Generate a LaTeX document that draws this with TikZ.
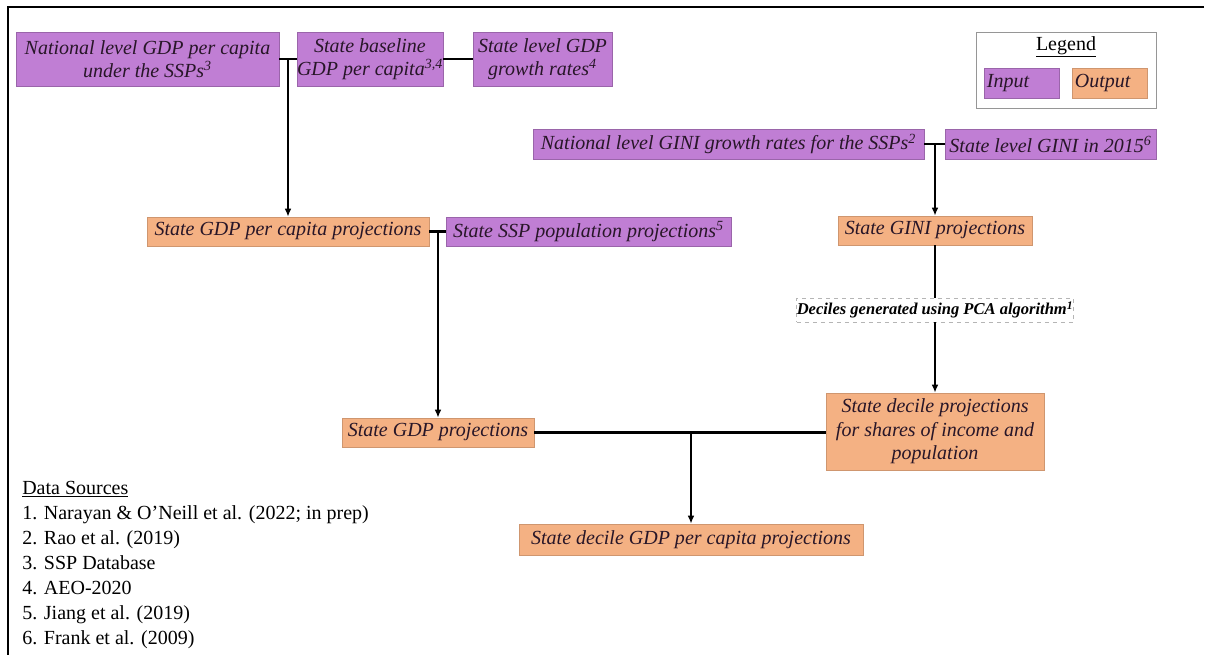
\documentclass[tikz,border=0pt]{standalone}
\usepackage{fontspec}
\setmainfont{Liberation Serif}
\usepackage{xcolor}
\usepackage{tikz}
\usetikzlibrary{arrows.meta, positioning, calc}
\definecolor{inputpurple}{RGB}{192, 126, 212}
\definecolor{outputorange}{RGB}{244, 177, 131}
\definecolor{legendgrey}{RGB}{150, 150, 150}
\definecolor{boxtext}{RGB}{40, 22, 40}

\begin{document}
\begin{tikzpicture}[x=0.75pt, y=-0.75pt,
        inblock/.style={rectangle, draw=inputpurple!80!black, line width=0.4pt, fill=inputpurple, text=boxtext, inner sep=0pt, align=center, font=\fontsize{15}{17.5}\selectfont\itshape},
        outblock/.style={inblock, draw=outputorange!85!black, fill=outputorange},
        keyblock/.style={inner xsep=2pt, text width=#1, align=left},
        line/.style={draw, line width=1.7pt},
        arrowline/.style={line, -{Latex[length=6pt, width=5pt]}}]

        \useasboundingbox (0,0) rectangle (1206,655);
        \draw[line width=2.2pt] (1204,7) -- (8,7) -- (8,655);

        % Nodes
        \node [inblock, minimum width=197pt, minimum height=40.5pt] (natgdp) at (147.5,59) {National level GDP per capita\\under the SSPs\textsuperscript{3}};
        \node [inblock, minimum width=109.5pt, minimum height=40.5pt] (basegdp) at (370,59) {State baseline\\GDP per capita\textsuperscript{3,4}};
        \node [inblock, minimum width=104.25pt, minimum height=40.5pt] (stategrowth) at (542.5,59) {State level GDP\\growth rates\textsuperscript{4}};

        \node [inblock, minimum width=293.25pt, minimum height=22.5pt] (natgini) at (728.5,144) {National level GINI growth rates for the SSPs\textsuperscript{2}};
        \node [inblock, minimum width=158.25pt, minimum height=22.5pt] (stategini) at (1050.5,144) {State level GINI in 2015\textsuperscript{6}};

        \node [outblock, minimum width=211.5pt, minimum height=21.75pt] (gdppcproj) at (288,231.5) {State GDP per capita projections};
        \node [inblock, minimum width=213.75pt, minimum height=21.75pt] (ssppop) at (588.5,231.5) {State SSP population projections\textsuperscript{5}};
        \node [outblock, minimum width=145.5pt, minimum height=21.75pt] (giniproj) at (935,230.5) {State GINI projections};

        \node [draw=legendgrey!70, dashed, line width=0.4pt, inner sep=0pt, minimum width=201pt, minimum height=18pt, font=\fontsize{12.4}{14}\selectfont\bfseries\itshape] (deciles) at (935,310) {Deciles generated using PCA algorithm\textsuperscript{1}};

        \node [outblock, minimum width=163.5pt, minimum height=57.75pt] (decproj) at (935,431.5) {State decile projections\\for shares of income and\\population};
        \node [outblock, minimum width=144pt, minimum height=21.75pt] (stategdp) at (438,432.5) {State GDP projections};
        \node [outblock, minimum width=258pt, minimum height=23.25pt] (final) at (691,539.5) {State decile GDP per capita projections};

        % Legend
        \node [draw=legendgrey, line width=0.6pt, minimum width=135pt, minimum height=57pt] (legend) at (1066,70) {};
        \node [font=\fontsize{15}{17.5}\selectfont] (legendtitle) at (1066,47) {\underline{Legend}};
        \node [inblock, keyblock=52pt, minimum height=22.5pt] (keyin) at (1021.5,83) {Input};
        \node [outblock, keyblock=52pt, minimum height=22.5pt] (keyout) at (1109.5,83) {Output};

        % Arrows
        \path [line] (natgdp) -- (basegdp);
        \path [line] (basegdp) -- (stategrowth);
        \path [arrowline] (gdppcproj.north |- natgdp.east) -- (gdppcproj.north);
        \path [line] (natgini) -- (stategini);
        \path [arrowline] (giniproj.north |- natgini.east) -- (giniproj.north);
        \path [line] (gdppcproj) -- (ssppop);
        \path [arrowline] (stategdp.north |- gdppcproj.east) -- (stategdp.north);
        \path [line] (giniproj) -- (deciles);
        \path [arrowline] (deciles) -- (decproj);
        \path [line] (stategdp.east) -- (stategdp.east -| decproj.west);
        \path [arrowline] (final.north |- stategdp.east) -- (final.north);

        % Sources
        \node [anchor=north west, inner sep=0pt, align=left, font=\fontsize{15}{18.75}\selectfont] (sources) at (22,481) {\underline{Data Sources}\\1. Narayan \& O'Neill et al. (2022; in prep)\\2. Rao et al. (2019)\\3. SSP Database\\4. AEO-2020\\5. Jiang et al. (2019)\\6. Frank et al. (2009)};
    \end{tikzpicture}
\end{document}
